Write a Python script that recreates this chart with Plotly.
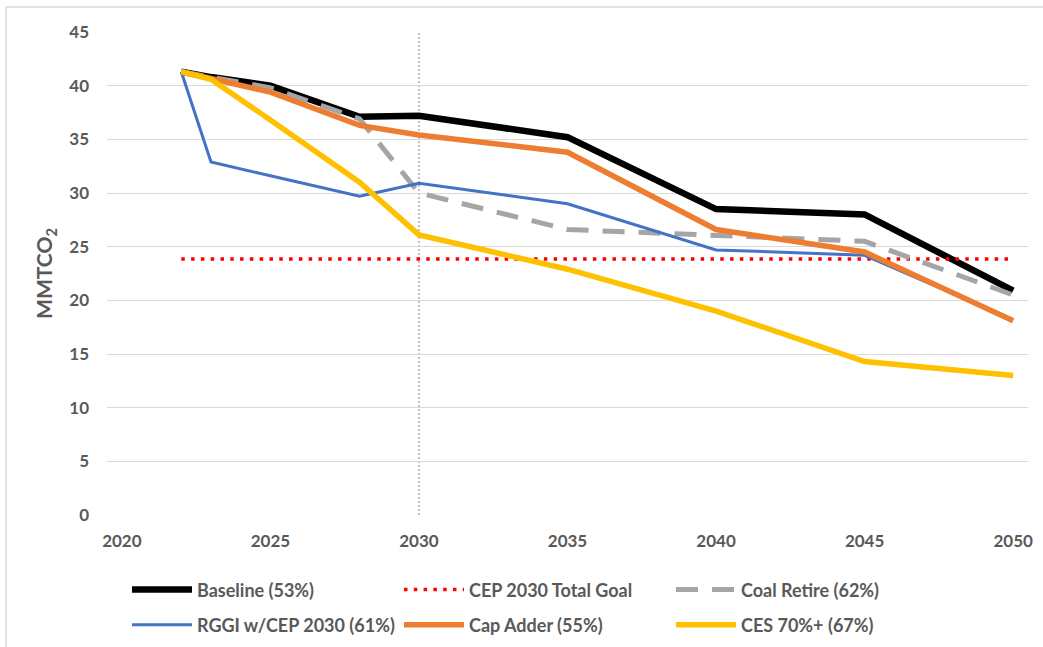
import plotly.graph_objects as go

years = [2022, 2023, 2025, 2028, 2030, 2035, 2040, 2045, 2050]
baseline = [41.3, 40.8, 40.0, 37.1, 37.2, 35.2, 28.5, 28.0, 20.9]
coal_retire = [41.3, 40.8, 39.8, 36.9, 30.0, 26.6, 26.0, 25.5, 20.5]
rggi = [41.3, 32.9, 31.6, 29.7, 30.9, 29.0, 24.7, 24.2, 18.2]
cap_adder = [41.3, 40.7, 39.4, 36.3, 35.4, 33.8, 26.6, 24.5, 18.1]
ces = [41.3, 40.6, 36.8, 31.0, 26.1, 22.9, 19.0, 14.3, 13.0]
goal_years = [2022, 2050]
cep_goal = [23.85, 23.85]
marker_year = 2030
x_ticks = [2020, 2025, 2030, 2035, 2040, 2045, 2050]

names = ["Baseline (53%)", "CEP 2030 Total Goal", "Coal Retire (62%)",
         "RGGI w/CEP 2030 (61%)", "Cap Adder (55%)", "CES 70%+ (67%)"]

FONT = "Lato, 'Noto Sans', sans-serif"
GRAY = "#595959"

fig = go.Figure()
fig.add_trace(go.Scatter(x=years, y=baseline, name=names[0], mode="lines", legend="legend",
                         line=dict(color="#000000", width=6.5)))
fig.add_trace(go.Scatter(x=goal_years, y=cep_goal, name=names[1], mode="lines", legend="legend",
                         line=dict(color="#ff0000", width=3.5, dash="3.5px,6.3px")))
fig.add_trace(go.Scatter(x=years, y=coal_retire, name=names[2], mode="lines", legend="legend",
                         line=dict(color="#a5a5a5", width=5, dash="22px,14px")))
fig.add_trace(go.Scatter(x=years, y=rggi, name=names[3], mode="lines", legend="legend2",
                         line=dict(color="#4472c4", width=3)))
fig.add_trace(go.Scatter(x=years, y=cap_adder, name=names[4], mode="lines", legend="legend2",
                         line=dict(color="#ed7d31", width=5.5)))
fig.add_trace(go.Scatter(x=years, y=ces, name=names[5], mode="lines", legend="legend2",
                         line=dict(color="#ffc000", width=5.5)))

fig.add_shape(type="line", xref="x", yref="y", x0=marker_year, x1=marker_year, y0=0, y1=45,
              line=dict(color="#c0c0c0", width=2, dash="2px,2px"), layer="below")
# outer chart border (top and left edges visible)
fig.add_shape(type="line", xref="paper", yref="paper", x0=-0.1097, x1=1.0163, y0=1.0518, y1=1.0518,
              line=dict(color="#d9d9d9", width=1.5))
fig.add_shape(type="line", xref="paper", yref="paper", x0=-0.1097, x1=-0.1097, y0=1.0518, y1=-0.3,
              line=dict(color="#d9d9d9", width=1.5))

legend_common = dict(orientation="h", xanchor="left", yanchor="middle",
                     entrywidth=197, entrywidthmode="pixels", itemwidth=60,
                     font=dict(family=FONT, size=18, color=GRAY, weight="bold"),
                     bgcolor="rgba(0,0,0,0)")

fig.update_layout(
    width=1043, height=647,
    margin=dict(l=107, r=15, t=32, b=132, autoexpand=False),
    paper_bgcolor="white", plot_bgcolor="white",
    font=dict(family=FONT, color=GRAY, size=17),
    showlegend=True,
    legend=dict(x=0.0217, y=-0.155, **legend_common),
    legend2=dict(x=0.0217, y=-0.2277, **legend_common),
    xaxis=dict(range=[2019.5, 2050.5], tickmode="array", tickvals=x_ticks,
               showgrid=False, zeroline=False, showline=False, ticks="", automargin=False,
               ticklabelstandoff=14,
               tickfont=dict(family=FONT, size=17, color=GRAY, weight="bold")),
    yaxis=dict(range=[0, 45], tickmode="linear", tick0=0, dtick=5, automargin=False,
               showgrid=True, gridcolor="#d9d9d9", gridwidth=1, zeroline=False, showline=False,
               ticks="", ticklabelstandoff=17,
               tickfont=dict(family=FONT, size=17, color=GRAY, weight="bold"),
               title=dict(text="MMTCO<sub>2</sub>", standoff=10,
                          font=dict(family=FONT, size=21, color=GRAY, weight="bold"))),
)

fig.write_html("out.html", config={"displayModeBar": False},
               post_script="document.body.style.margin='0';")
